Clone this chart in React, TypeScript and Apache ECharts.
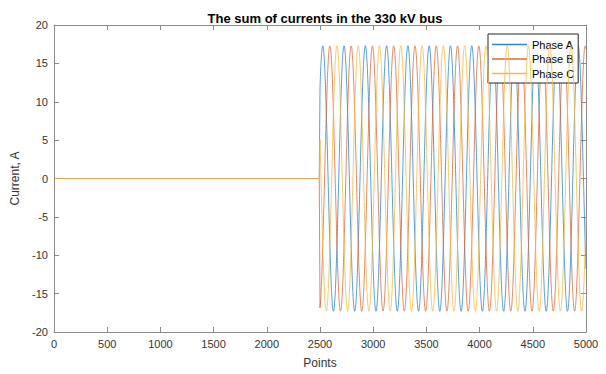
import React, { useEffect, useRef } from "react";
import * as echarts from "echarts";

// Values
const titleText = "The sum of currents in the 330 kV bus";
const seriesNames = ["Phase A", "Phase B", "Phase C"];
const seriesColors = ["#2f86c6", "#db6a3c", "#eebd45"];
const amplitudes = [17.3, 17.3, 17.3]; // A, peak value
const phaseDeg = [43, -77, 163]; // phase angle at the onset point
const periodPoints = 200; // points per cycle
const onsetPoint = 2500; // first non-zero point
const totalPoints = 5000;
const xRange = [0, 5000];
const yRange = [-20, 20];
const xStep = 500;
const yStep = 5;

function buildSeries(k: number): [number, number][] {
  const out: [number, number][] = [];
  const ph = (phaseDeg[k] * Math.PI) / 180;
  for (let i = 1; i <= totalPoints; i++) {
    let v = 0;
    if (i >= onsetPoint) {
      v = amplitudes[k] * Math.sin((2 * Math.PI * (i - onsetPoint)) / periodPoints + ph);
    }
    out.push([i, v]);
  }
  return out;
}

const FONT = "'Liberation Sans', Arial, Helvetica, sans-serif";
const AXIS_COLOR = "#8a8a8a";
const LABEL_COLOR = "#333333";

export default function App() {
  const ref = useRef<HTMLDivElement>(null);
  useEffect(() => {
    document.body.style.margin = "0";
    if (!ref.current) return;
    const chart = echarts.init(ref.current, undefined, { renderer: "svg" });
    const axisCommon = {
      type: "value" as const,
      axisLine: { show: true, onZero: false, lineStyle: { color: AXIS_COLOR, width: 1 } },
      axisTick: { show: true, inside: true, length: 5, lineStyle: { color: AXIS_COLOR } },
      splitLine: { show: false },
    };
    const plain = (v: number) => String(v);
    chart.setOption({
      animation: false,
      backgroundColor: "#ffffff",
      title: {
        text: titleText,
        left: 320,
        textAlign: "center",
        top: 7,
        textStyle: { fontFamily: FONT, fontSize: 13, fontWeight: "bold", color: "#000" },
      },
      grid: { left: 54, right: 20, top: 25, bottom: 41 },
      legend: {
        orient: "vertical",
        left: 488,
        top: 34,
        padding: [4, 4, 3, 4],
        icon: "rect",
        itemWidth: 35,
        itemHeight: 1.6,
        itemGap: 1.5,
        backgroundColor: "#ffffff",
        borderColor: "#262626",
        borderWidth: 1,
        borderRadius: 0,
        selectedMode: false,
        itemStyle: { opacity: 1 },
        textStyle: { fontFamily: FONT, fontSize: 11, color: "#000", lineHeight: 13 },
        data: seriesNames,
      },
      xAxis: [
        {
          ...axisCommon,
          min: xRange[0],
          max: xRange[1],
          interval: xStep,
          name: "Points",
          nameLocation: "middle",
          nameGap: 25,
          nameTextStyle: { fontFamily: FONT, fontSize: 12, color: LABEL_COLOR },
          axisLabel: { fontFamily: FONT, fontSize: 11, color: LABEL_COLOR, margin: 6, formatter: plain },
        },
        {
          ...axisCommon,
          position: "top",
          min: xRange[0],
          max: xRange[1],
          interval: xStep,
          axisLabel: { show: false },
        },
      ],
      yAxis: [
        {
          ...axisCommon,
          min: yRange[0],
          max: yRange[1],
          interval: yStep,
          name: "Current, A",
          nameLocation: "middle",
          nameGap: 26,
          nameTextStyle: { fontFamily: FONT, fontSize: 12, color: LABEL_COLOR },
          axisLabel: { fontFamily: FONT, fontSize: 11, color: LABEL_COLOR, margin: 6, formatter: plain },
        },
        {
          ...axisCommon,
          position: "right",
          min: yRange[0],
          max: yRange[1],
          interval: yStep,
          axisLabel: { show: false },
        },
      ],
      series: seriesNames.map((name, k) => ({
        name,
        type: "line",
        xAxisIndex: 0,
        yAxisIndex: 0,
        data: buildSeries(k),
        symbol: "none",
        showSymbol: false,
        color: seriesColors[k],
        lineStyle: { width: 0.8, color: seriesColors[k], opacity: 1 },
        emphasis: { disabled: true },
        z: 2 + k,
      })),
    });
    return () => chart.dispose();
  }, []);
  return <div ref={ref} style={{ width: 606, height: 374 }} />;
}
